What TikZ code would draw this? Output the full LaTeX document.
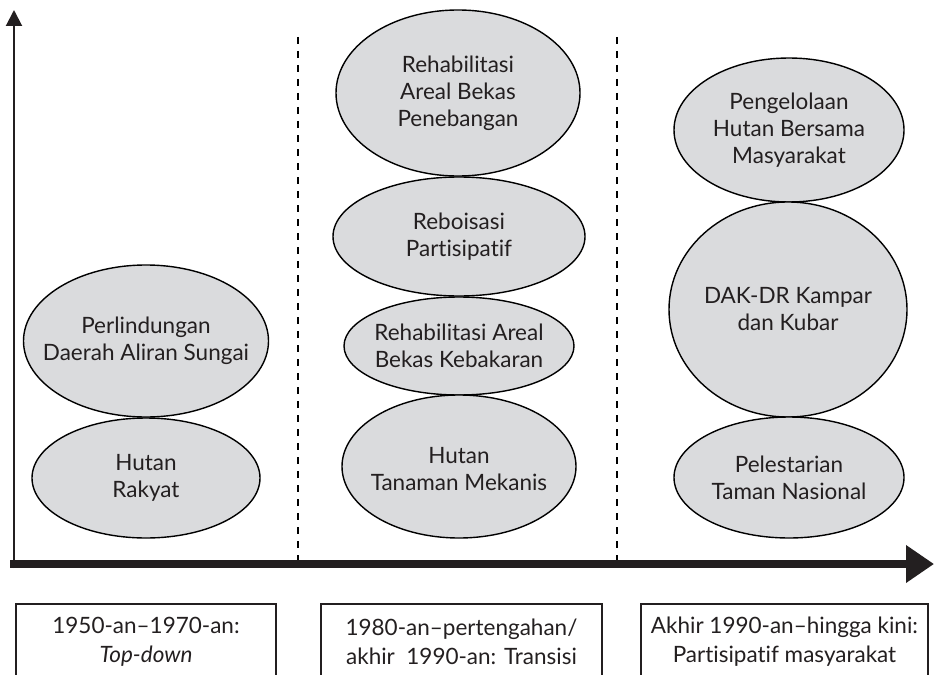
\documentclass[tikz,border=0pt]{standalone}
\usepackage{fontspec}
\setmainfont{Lato}[Ligatures={TeX,NoCommon}]
\usetikzlibrary{shapes.geometric,arrows.meta}
\definecolor{blobfill}{RGB}{218,219,221}
\definecolor{inkgray}{RGB}{35,31,32}
\begin{document}
\begin{tikzpicture}[x=1pt,y=-1pt,
  blob/.style={ellipse, draw=black, line width=1.4pt, fill=blobfill, inner sep=0pt},
  blobtext/.style={align=center, text=inkgray, font=\fontsize{22.5}{27}\selectfont, inner sep=0pt},
  periodbox/.style={draw=inkgray, line width=1.4pt, inner sep=0pt, align=center,
    text=inkgray, font=\fontsize{22.5}{29}\selectfont, minimum height=75pt},
  divider/.style={draw=black, line width=1.8pt, dash pattern=on 7pt off 7pt},
]
\useasboundingbox (0,0) rectangle (936,674);

% axes
\coordinate (origin) at (14,564);
\coordinate (ytop) at (14,10);
\coordinate (xend) at (934,564);
\draw[line width=2pt, draw=inkgray, -{Triangle[length=16pt,width=16pt]}] (14,568) -- (ytop);
\draw[line width=8pt, draw=inkgray, -{Triangle[length=28pt,width=36pt]}] (10,564) -- (xend);

% period dividers
\coordinate (d1top) at (298,37);
\coordinate (d1bot) at (298,560);
\coordinate (d2top) at (617,37);
\coordinate (d2bot) at (617,560);
\draw[divider] (d1top) -- (d1bot);
\draw[divider] (d2top) -- (d2bot);

% first period
\node[blob, minimum width=245pt, minimum height=152pt] (pdas) at (146,341) {};
\node[blobtext] at (pdas) {Perlindungan\\Daerah Aliran Sungai};
\node[blob, minimum width=228pt, minimum height=120pt] (hr) at (146,478) {};
\node[blobtext] at (hr) {Hutan\\Rakyat};

% second period
\node[blob, minimum width=244pt, minimum height=166pt] (rabp) at (458,93) {};
\node[blobtext] at (rabp) {Rehabilitasi\\Areal Bekas\\Penebangan};
\node[blob, minimum width=252pt, minimum height=119pt] (rp) at (459,236.5) {};
\node[blobtext] at (rp) {Reboisasi\\Partisipatif};
\node[blob, minimum width=230pt, minimum height=98pt] (rabk) at (459,346) {};
\node[blobtext] at (rabk) {Rehabilitasi Areal\\Bekas Kebakaran};
\node[blob, minimum width=234pt, minimum height=143pt] (htm) at (459,466.5) {};
\node[blobtext] at ([yshift=-3pt]htm.center) {Hutan\\Tanaman Mekanis};

% third period
\node[blob, minimum width=230pt, minimum height=144pt] (phbm) at (789,130) {};
\node[blobtext] at (phbm) {Pengelolaan\\Hutan Bersama\\Masyarakat};
\node[blob, minimum width=238pt, minimum height=215pt] (dak) at (788,309.5) {};
\node[blobtext] at (dak) {DAK-DR Kampar\\dan Kubar};
\node[blob, minimum width=230pt, minimum height=121pt] (ptn) at (789,477.5) {};
\node[blobtext] at (ptn) {Pelestarian\\Taman Nasional};

% period labels
\node[periodbox, minimum width=260pt] (p1) at (146,641.5) {1950-an--1970-an:\\\textit{Top-down}};
\node[periodbox, minimum width=281pt] (p2) at (461.5,641.5) {1980-an--pertengahan/\\akhir\ \ 1990-an: Transisi};
\node[periodbox, minimum width=287pt] (p3) at (784.5,641.5) {Akhir 1990-an--hingga kini:\\Partisipatif masyarakat};
\end{tikzpicture}
\end{document}
